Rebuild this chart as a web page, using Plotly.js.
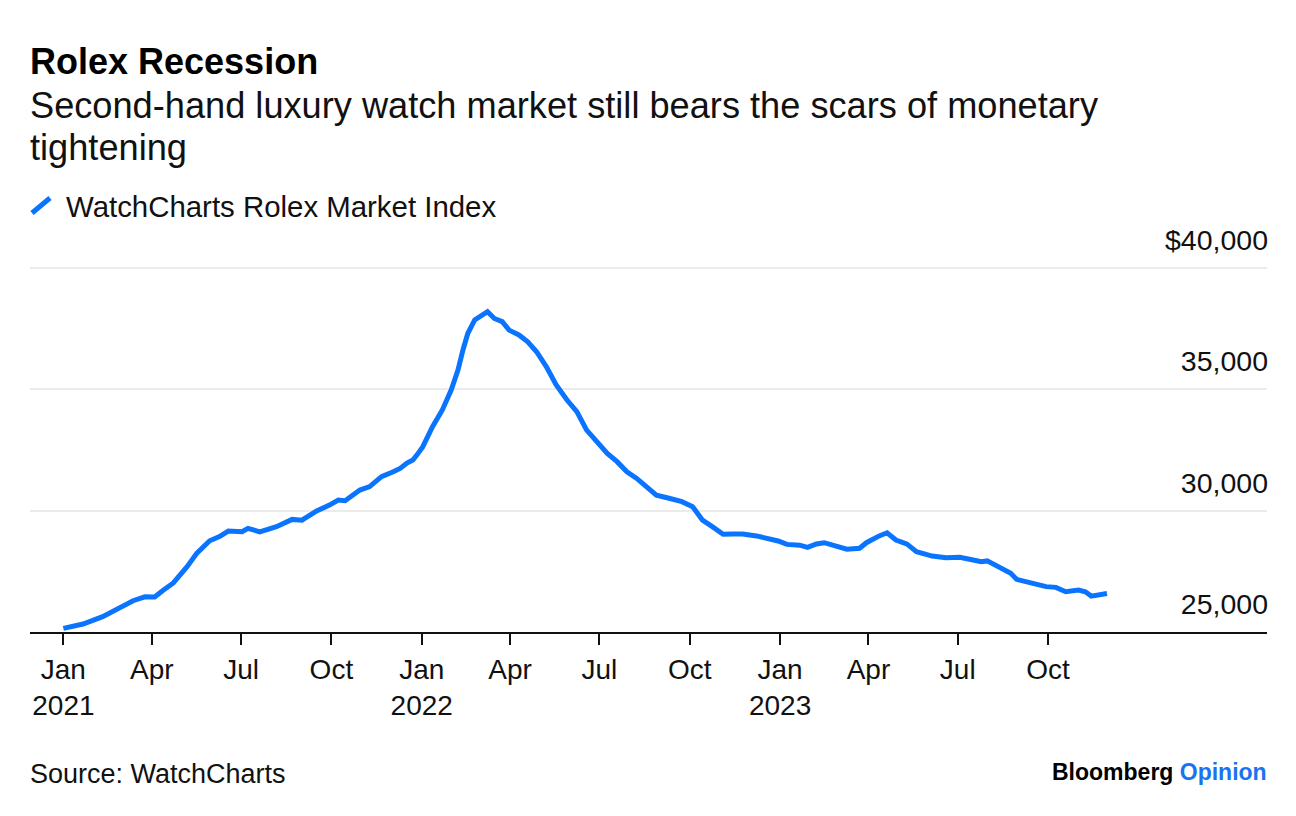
<!DOCTYPE html>
<html>
<head>
<meta charset="utf-8">
<script src="https://cdn.plot.ly/plotly-3.0.1.min.js"></script>
<style>
  html, body { margin: 0; padding: 0; background: #ffffff; }
  #chart { width: 1296px; height: 816px; }
</style>
</head>
<body>
<div id="chart"></div>
<script>
// ---- Data ----
const dates = [
  '2021-01-01','2021-01-21','2021-02-10','2021-02-28','2021-03-13','2021-03-25',
  '2021-04-04','2021-04-12','2021-04-23','2021-05-07','2021-05-17','2021-05-30',
  '2021-06-09','2021-06-18','2021-07-02','2021-07-08','2021-07-20','2021-08-06',
  '2021-08-22','2021-09-01','2021-09-16','2021-09-29','2021-10-08','2021-10-15',
  '2021-10-30','2021-11-09','2021-11-21','2021-12-03','2021-12-10','2021-12-17',
  '2021-12-23','2021-12-27','2022-01-02','2022-01-12','2022-01-22','2022-01-31',
  '2022-02-07','2022-02-12','2022-02-17','2022-02-24','2022-03-03','2022-03-09',
  '2022-03-16','2022-03-24','2022-03-31','2022-04-10','2022-04-19','2022-04-28',
  '2022-05-08','2022-05-18','2022-05-29','2022-06-08','2022-06-18','2022-06-28',
  '2022-07-09','2022-07-19','2022-07-29','2022-08-08','2022-08-18','2022-08-28',
  '2022-09-10','2022-09-23','2022-10-04','2022-10-14','2022-10-24','2022-11-04',
  '2022-11-14','2022-11-24','2022-12-08','2022-12-19','2022-12-30','2023-01-08',
  '2023-01-21','2023-01-29','2023-02-07','2023-02-15','2023-02-27','2023-03-10',
  '2023-03-23','2023-03-30','2023-04-12','2023-04-20','2023-04-29','2023-05-10',
  '2023-05-20','2023-06-05','2023-06-19','2023-07-03','2023-07-13','2023-07-25',
  '2023-07-31','2023-08-12','2023-08-24','2023-08-30','2023-09-14','2023-09-29',
  '2023-10-09','2023-10-19','2023-11-01','2023-11-08','2023-11-14','2023-11-23',
  '2023-11-30'
];
const indexValues = [
  25150, 25330, 25630, 25990, 26290, 26450,
  26440, 26700, 27020, 27690, 28250, 28760,
  28930, 29160, 29130, 29270, 29130, 29340,
  29640, 29610, 29990, 30230, 30440, 30410,
  30850, 30990, 31400, 31600, 31740, 31960,
  32090, 32290, 32630, 33460, 34150, 34970,
  35800, 36620, 37310, 37860, 38020, 38200,
  37920, 37790, 37440, 37240, 36960, 36550,
  35930, 35180, 34560, 34080, 33320, 32840,
  32360, 32020, 31600, 31330, 30990, 30640,
  30510, 30370, 30160, 29610, 29340, 29030,
  29040, 29040, 28960, 28860, 28750, 28610,
  28580, 28490, 28630, 28680, 28560, 28410,
  28450, 28680, 28960, 29090, 28790, 28630,
  28310, 28130, 28060, 28080, 28000, 27900,
  27930, 27670, 27420, 27170, 27000, 26870,
  26840, 26660, 26730, 26660, 26480, 26520,
  26590
];
const seriesName = 'WatchCharts Rolex Market Index';

const xTickVals = ['2021-01-01','2021-04-01','2021-07-01','2021-10-01',
                   '2022-01-01','2022-04-01','2022-07-01','2022-10-01',
                   '2023-01-01','2023-04-01','2023-07-01','2023-10-01'];
const xTickText = ['Jan<br>2021','Apr','Jul','Oct',
                   'Jan<br>2022','Apr','Jul','Oct',
                   'Jan<br>2023','Apr','Jul','Oct'];
const yTickVals = [25000, 30000, 35000, 40000];
const yTickText = ['25,000', '30,000', '35,000', '$40,000'];

// ---- Styling ----
const BLUE = '#0a74ff';
const FONT = 'Liberation Sans, Arial, Helvetica, sans-serif';
const TEXT = '#111111';

// plot area in pixels: left 30, right 1267, top 220 (headroom for top label), bottom 632
const L = 30, R = 1267, T = 220, B = 632;
const px = x => (x - L) / (R - L);
const py = y => (B - y) / (B - T);

const trace = {
  type: 'scatter',
  mode: 'lines',
  x: dates,
  y: indexValues,
  name: seriesName,
  line: { color: BLUE, width: 5 },
  showlegend: false,
  hoverinfo: 'x+y'
};

const layout = {
  width: 1296,
  height: 816,
  paper_bgcolor: '#ffffff',
  plot_bgcolor: '#ffffff',
  margin: { l: L, r: 1296 - R, t: T, b: 816 - B, pad: 0 },
  font: { family: FONT, color: TEXT, size: 29 },
  showlegend: false,
  xaxis: {
    type: 'date',
    range: ['2020-11-28', '2024-05-11'],
    tickmode: 'array',
    tickvals: xTickVals,
    ticktext: xTickText,
    ticks: 'outside',
    ticklen: 11,
    tickwidth: 2,
    tickcolor: '#111111',
    showline: true,
    linecolor: '#111111',
    linewidth: 2,
    showgrid: false,
    zeroline: false,
    tickfont: { family: FONT, size: 28, color: TEXT },
    fixedrange: true
  },
  yaxis: {
    side: 'right',
    range: [25000, 41978],
    tickmode: 'array',
    tickvals: yTickVals,
    ticktext: yTickText,
    ticks: '',
    ticklabelposition: 'inside top',
    ticklabelshift: -8,
    ticklabelstandoff: -4,
    showgrid: true,
    gridcolor: '#ebebeb',
    gridwidth: 2,
    showline: false,
    zeroline: false,
    tickfont: { family: FONT, size: 28.5, color: TEXT },
    fixedrange: true
  },
  shapes: [
    { type: 'line', xref: 'paper', yref: 'paper',
      x0: px(32), y0: py(213), x1: px(50), y1: py(198),
      line: { color: BLUE, width: 5 } }
  ],
  annotations: [
    { text: '<b>Rolex Recession</b>', xref: 'paper', yref: 'paper',
      x: px(28), y: py(62), xanchor: 'left', yanchor: 'middle', showarrow: false,
      font: { family: FONT, size: 36, color: '#000000' } },
    { text: 'Second-hand luxury watch market still bears the scars of monetary',
      xref: 'paper', yref: 'paper', x: px(28), y: py(105), xanchor: 'left', yanchor: 'middle',
      showarrow: false, font: { family: FONT, size: 36.2, color: TEXT } },
    { text: 'tightening',
      xref: 'paper', yref: 'paper', x: px(28), y: py(147), xanchor: 'left', yanchor: 'middle',
      showarrow: false, font: { family: FONT, size: 36.2, color: TEXT } },
    { text: seriesName,
      xref: 'paper', yref: 'paper', x: px(64), y: py(207), xanchor: 'left', yanchor: 'middle',
      showarrow: false, font: { family: FONT, size: 29.4, color: TEXT } },
    { text: 'Source: WatchCharts',
      xref: 'paper', yref: 'paper', x: px(28), y: py(774), xanchor: 'left', yanchor: 'middle',
      showarrow: false, font: { family: FONT, size: 27, color: TEXT } },
    { text: '<b>Bloomberg</b> <b><span style="color:#1a73f0">Opinion</span></b>',
      xref: 'paper', yref: 'paper', x: px(1269), y: py(772), xanchor: 'right', yanchor: 'middle',
      showarrow: false, font: { family: FONT, size: 23, color: '#000000' } }
  ]
};

Plotly.newPlot('chart', [trace], layout, { displayModeBar: false, staticPlot: true });
</script>
</body>
</html>
